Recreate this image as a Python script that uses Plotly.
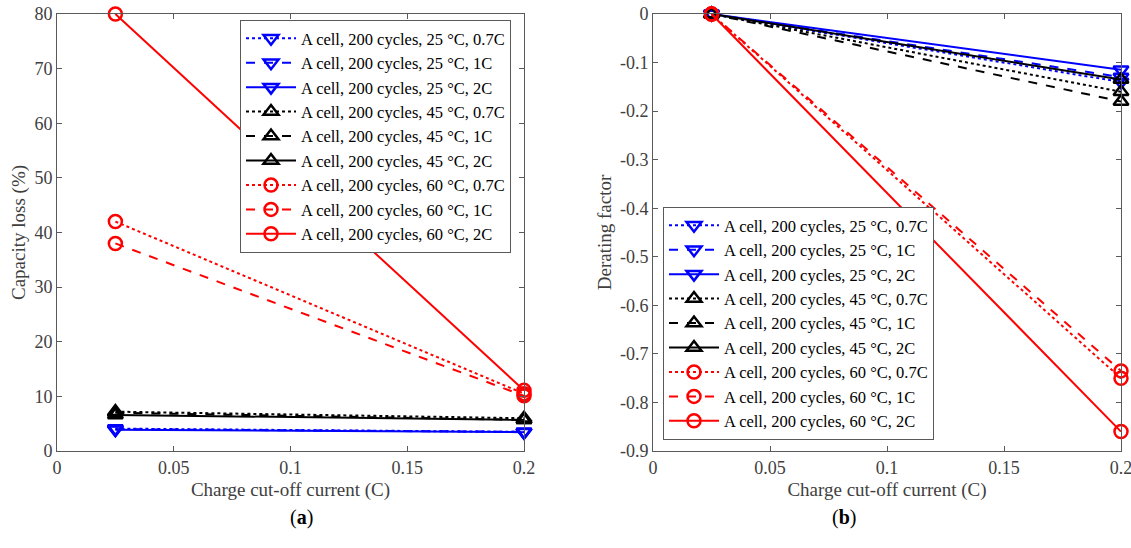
import plotly.graph_objects as go

x_vals = [0.025, 0.2]
names = [
    "A cell, 200 cycles, 25 °C, 0.7C",
    "A cell, 200 cycles, 25 °C, 1C",
    "A cell, 200 cycles, 25 °C, 2C",
    "A cell, 200 cycles, 45 °C, 0.7C",
    "A cell, 200 cycles, 45 °C, 1C",
    "A cell, 200 cycles, 45 °C, 2C",
    "A cell, 200 cycles, 60 °C, 0.7C",
    "A cell, 200 cycles, 60 °C, 1C",
    "A cell, 200 cycles, 60 °C, 2C",
]
cap_loss_25_07 = [4.1, 3.5]
cap_loss_25_1 = [4.0, 3.5]
cap_loss_25_2 = [3.9, 3.45]
cap_loss_45_07 = [7.2, 6.0]
cap_loss_45_1 = [7.0, 5.7]
cap_loss_45_2 = [6.6, 5.7]
cap_loss_60_07 = [42.0, 10.5]
cap_loss_60_1 = [38.0, 10.1]
cap_loss_60_2 = [80.0, 11.1]

der_25_07 = [0.0, -0.14]
der_25_1 = [0.0, -0.13]
der_25_2 = [0.0, -0.115]
der_45_07 = [0.0, -0.16]
der_45_1 = [0.0, -0.18]
der_45_2 = [0.0, -0.135]
der_60_07 = [0.0, -0.75]
der_60_1 = [0.0, -0.735]
der_60_2 = [0.0, -0.86]

left_series = [cap_loss_25_07, cap_loss_25_1, cap_loss_25_2,
               cap_loss_45_07, cap_loss_45_1, cap_loss_45_2,
               cap_loss_60_07, cap_loss_60_1, cap_loss_60_2]
right_series = [der_25_07, der_25_1, der_25_2,
                der_45_07, der_45_1, der_45_2,
                der_60_07, der_60_1, der_60_2]

colors = ["#0000ff"] * 3 + ["#000000"] * 3 + ["#ff0000"] * 3
symbols = ["triangle-down-open"] * 3 + ["triangle-up-open"] * 3 + ["circle-open"] * 3
dashes = ["dot", "dash", "solid"] * 3

fig = go.Figure()
for i in range(9):
    fig.add_trace(go.Scatter(
        x=x_vals, y=left_series[i], name=names[i], mode="lines+markers",
        line=dict(color=colors[i], width=2, dash=dashes[i]),
        marker=dict(symbol=symbols[i], size=13, color=colors[i], line=dict(width=2.5, color=colors[i])),
        cliponaxis=False, xaxis="x", yaxis="y", legend="legend"))
for i in range(9):
    fig.add_trace(go.Scatter(
        x=x_vals, y=right_series[i], name=names[i], mode="lines+markers",
        line=dict(color=colors[i], width=2, dash=dashes[i]),
        marker=dict(symbol=symbols[i], size=13, color=colors[i], line=dict(width=2.5, color=colors[i])),
        cliponaxis=False, xaxis="x2", yaxis="y2", legend="legend2"))

font_family = "Liberation Serif, Times New Roman, serif"
axis_common = dict(
    showline=True, linecolor="#5a5a5a", linewidth=1, mirror="ticks",
    ticks="inside", ticklen=5, tickcolor="#5a5a5a",
    showgrid=False, zeroline=False, automargin=False,
    ticklabeloverflow="allow",
    tickfont=dict(family=font_family, size=18, color="#404040"),
    title_font=dict(family=font_family, size=19, color="#404040"),
)
xt = dict(tickvals=[0, 0.05, 0.1, 0.15, 0.2], ticktext=["0", "0.05", "0.1", "0.15", "0.2"],
          range=[0, 0.2])

y_top = 1 - 14 / 548
y_bot = 1 - 451 / 548

leg_common = dict(bgcolor="white", bordercolor="#5a5a5a", borderwidth=1,
                  font=dict(family=font_family, size=16.5, color="#000000"),
                  tracegroupgap=0, itemwidth=50)

fig.update_layout(
    width=1131, height=548,
    margin=dict(l=0, r=0, t=0, b=0, autoexpand=False),
    paper_bgcolor="white", plot_bgcolor="white",
    font=dict(family=font_family, color="#262626"),
    xaxis=dict(domain=[57 / 1131, 524 / 1131], anchor="y",
               title=dict(text="Charge cut-off current (C)", standoff=6), **xt, **axis_common),
    yaxis=dict(domain=[y_bot, y_top], anchor="x", range=[0, 80],
               tickvals=list(range(0, 81, 10)),
               title=dict(text="Capacity loss (%)", standoff=3), **axis_common),
    xaxis2=dict(domain=[653 / 1131, 1121 / 1131], anchor="y2",
                title=dict(text="Charge cut-off current (C)", standoff=6), **xt, **axis_common),
    yaxis2=dict(domain=[y_bot, y_top], anchor="x2", range=[-0.9, 0],
                tickvals=[0, -0.1, -0.2, -0.3, -0.4, -0.5, -0.6, -0.7, -0.8, -0.9],
                ticktext=["0", "-0.1", "-0.2", "-0.3", "-0.4", "-0.5", "-0.6", "-0.7", "-0.8", "-0.9"],
                title=dict(text="Derating factor", standoff=3), **axis_common),
    legend=dict(x=240 / 1131, y=1 - 20 / 548, xanchor="left", yanchor="top", **leg_common),
    legend2=dict(x=663 / 1131, y=1 - 440 / 548, xanchor="left", yanchor="bottom", **leg_common),
    annotations=[
        dict(text="(<b>a</b>)", x=288 / 1131, y=1 - 531 / 548, xref="paper", yref="paper",
             showarrow=False, font=dict(family=font_family, size=20, color="#000000")),
        dict(text="(<b>b</b>)", x=858 / 1131, y=1 - 531 / 548, xref="paper", yref="paper",
             showarrow=False, font=dict(family=font_family, size=20, color="#000000")),
    ],
)

fig.write_html("out.html")
